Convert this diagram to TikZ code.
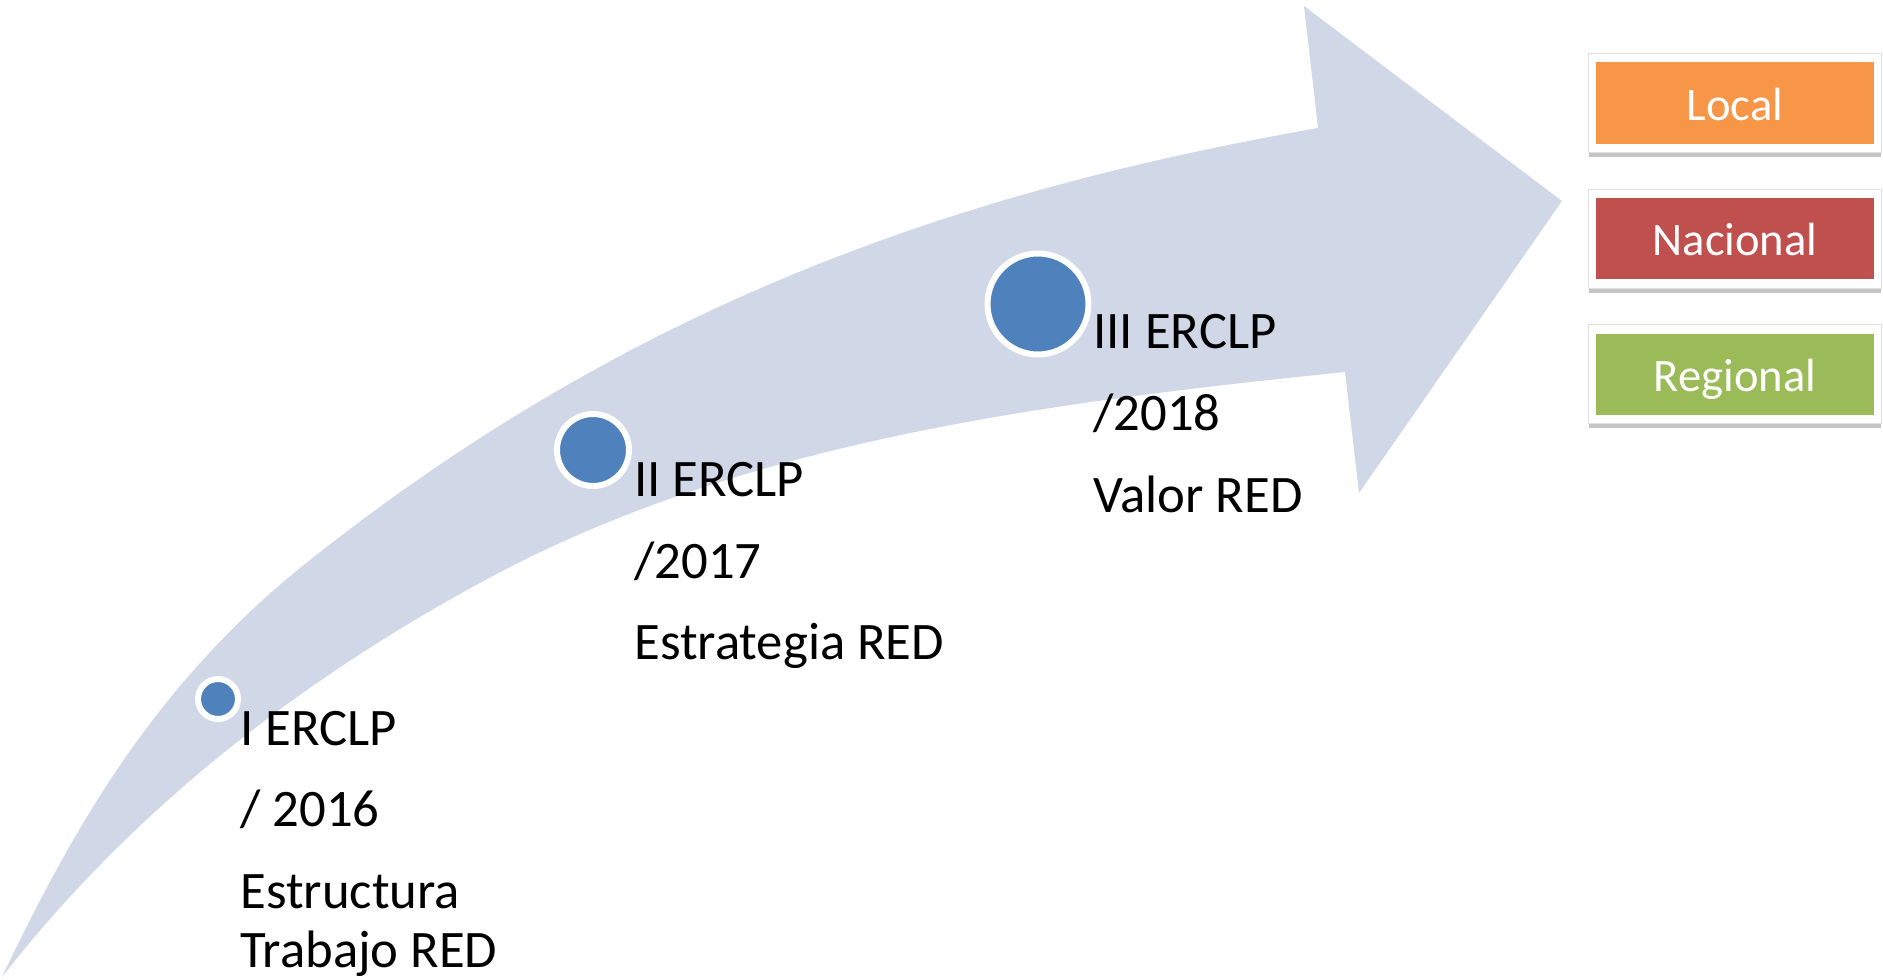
\documentclass[tikz,border=0pt]{standalone}
\usepackage{fontspec}
\setmainfont{Carlito}
\usetikzlibrary{shadows}
\definecolor{bandfill}{HTML}{D0D8E8}
\definecolor{dotblue}{HTML}{4F81BD}
\definecolor{localorange}{HTML}{F79646}
\definecolor{nacionalred}{HTML}{C0504D}
\definecolor{regionalgreen}{HTML}{9BBB59}
\tikzset{
  hito/.style={circle, fill=dotblue, draw=white, line width=3.4pt, inner sep=0pt},
  txt/.style={anchor=base west, inner sep=0pt, font=\fontsize{30}{34}\selectfont},
  marco/.style={rectangle, fill=white, draw=black!12, line width=0.5pt, minimum width=5.86cm, minimum height=1.98cm,
    drop shadow={shadow xshift=0pt, shadow yshift=-2.6pt, fill=black!45, opacity=0.5}},
  nivel/.style={rectangle, minimum width=5.58cm, minimum height=1.64cm, inner sep=0pt, text=white,
    text height=19.8pt, text depth=0pt, font=\fontsize{26.5}{30}\selectfont}
}
\begin{document}
\begin{tikzpicture}[x=0.02cm, y=-0.02cm]
\useasboundingbox (0,0) rectangle (1883,980);
% flecha
\fill[bandfill] (2,977) .. controls (70,835) and (150,690) .. (300,568)
  .. controls (628,305) and (954,192) .. (1318,128)
  -- (1304,6) -- (1562,201) -- (1359,493) -- (1345,372)
  .. controls (1054,402) and (749,439) .. (491,577)
  .. controls (315,671) and (140,800) .. (2,977) -- cycle;
% hitos
\node[hito, minimum size=0.8cm] (H_1) at (218,699) {};
\node[hito, minimum size=1.44cm] (H_2) at (593,450) {};
\node[hito, minimum size=2.02cm] (H_3) at (1038,304) {};
% textos
\node[txt] (T_1_0) at (240,745) {I ERCLP};
\node[txt] (T_1_1) at (240,826) {/ 2016};
\node[txt] (T_1_2) at (240,908) {Estructura};
\node[txt] (T_1_3) at (240,967) {Trabajo RED};
\node[txt] (T_2_0) at (634,496) {II ERCLP};
\node[txt] (T_2_1) at (634,578) {/2017};
\node[txt] (T_2_2) at (634,659) {Estrategia RED};
\node[txt] (T_3_0) at (1093,348) {III ERCLP};
\node[txt] (T_3_1) at (1093,430) {/2018};
\node[txt] (T_3_2) at (1093,512) {Valor RED};
% niveles
\node[marco] (M_1) at (1735,102.5) {};
\node[nivel, fill=localorange] (N_1) at (1735,103) {Local};
\node[marco] (M_2) at (1735,238.5) {};
\node[nivel, fill=nacionalred] (N_2) at (1735,238.5) {Nacional};
\node[marco] (M_3) at (1735,374) {};
\node[nivel, fill=regionalgreen] (N_3) at (1735,374.5) {Regional};
\end{tikzpicture}
\end{document}
